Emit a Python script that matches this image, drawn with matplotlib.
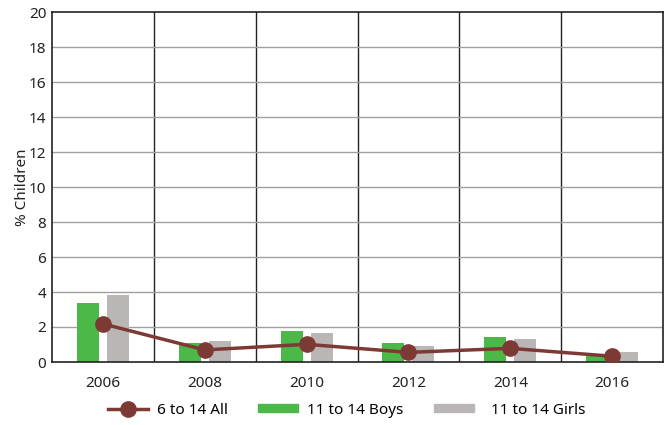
import matplotlib
matplotlib.use("Agg")
import matplotlib.pyplot as plt
import numpy as np
from matplotlib.lines import Line2D
from matplotlib.patches import Patch

years = ["2006", "2008", "2010", "2012", "2014", "2016"]
all_6_14 = [2.18, 0.69, 1.01, 0.55, 0.78, 0.33]
boys_11_14 = [3.38, 1.09, 1.78, 1.09, 1.43, 0.40]
girls_11_14 = [3.84, 1.20, 1.66, 0.92, 1.32, 0.57]

plt.rcParams['font.family'] = ['Noto Sans', 'DejaVu Sans']

green = "#4cb848"
gray = "#bab6b5"
maroon = "#7d3a35"

fig = plt.figure(figsize=(6.67, 4.25), dpi=100)
ax = fig.add_axes([52/667, 1-362/425, 611/667, 350/425])

x = np.arange(len(years))
w = 0.216
off = 0.147
ax.bar(x - off, boys_11_14, width=w, color=green, zorder=2)
ax.bar(x + off, girls_11_14, width=w, color=gray, zorder=2)
ax.plot(x, all_6_14, color=maroon, lw=2.5, marker='o', ms=11, zorder=3)

ax.set_xlim(-0.5, len(years) - 0.5)
ax.set_ylim(0, 20)
ax.set_yticks(range(0, 21, 2))
ax.set_xticks(x)
ax.set_xticklabels(years)
for b in np.arange(0.5, len(years) - 0.5, 1):
    ax.axvline(b, color="#222222", lw=1, zorder=1)
for yv in range(2, 20, 2):
    ax.axhline(yv, color="#a0a0a0", lw=1, zorder=1)
for s in ax.spines.values():
    s.set_color("#222222")
    s.set_linewidth(1.2)
ax.tick_params(axis='both', length=0, labelsize=11, colors="#222222", pad=4)
ax.tick_params(axis='x', pad=10)
ax.set_ylabel("% Children", fontsize=11, color="#222222")
ax.yaxis.set_label_coords(-22/611, 0.5)

handles = [
    Line2D([0], [0], color=maroon, lw=2.5, marker='o', ms=11),
    Patch(color=green),
    Patch(color=gray),
]
labels = ["6 to 14 All", "11 to 14 Boys", "  11 to 14 Girls"]
fig.legend(handles, labels, loc='center', bbox_to_anchor=(0.52, 1-410/425), ncol=3,
           frameon=False, fontsize=11, handlelength=2.6, handleheight=0.5,
           handletextpad=0.6, columnspacing=2.0)

fig.savefig("out.png", dpi=100)
